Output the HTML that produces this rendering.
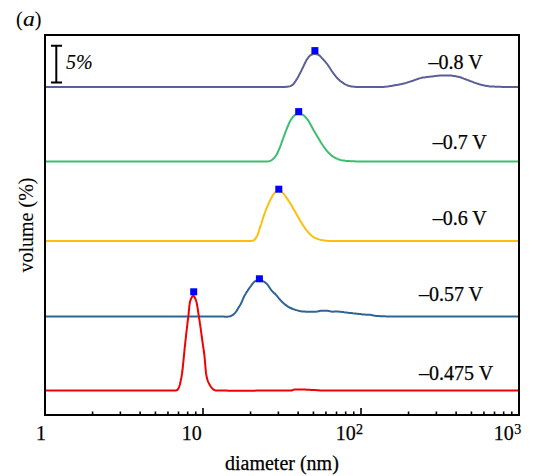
<!DOCTYPE html>
<html><head><meta charset="utf-8"><style>
html,body{margin:0;padding:0;background:#fff;width:555px;height:476px;overflow:hidden}
svg{display:block}
text{fill:#000;stroke:#000;stroke-width:0.25}
</style></head><body>
<svg width="555" height="476" viewBox="0 0 555 476">
<rect width="555" height="476" fill="#fff"/>
<path d="M45.0 87.0L46.0 87.0L47.0 87.0L48.0 87.0L49.1 87.0L50.1 87.0L51.1 87.0L52.1 87.0L53.2 87.0L54.2 87.0L55.3 87.0L56.3 87.0L57.4 87.0L58.4 87.0L59.5 87.0L60.6 87.0L61.6 87.0L62.7 87.0L63.8 87.0L64.9 87.0L66.0 87.0L67.1 87.0L68.2 87.0L69.2 87.0L70.3 87.0L71.5 87.0L72.6 87.0L73.7 87.0L74.8 87.0L75.9 87.0L77.0 87.0L78.1 87.0L79.3 87.0L80.4 87.0L81.5 87.0L82.6 87.0L83.8 87.0L84.9 87.0L86.1 87.0L87.2 87.0L88.3 87.0L89.5 87.0L90.6 87.0L91.8 87.0L92.9 87.0L94.1 87.0L95.2 87.0L96.4 87.0L97.5 87.0L98.7 87.0L99.9 87.0L101.0 87.0L102.2 87.0L103.4 87.0L104.5 87.0L105.7 87.0L106.9 87.0L108.0 87.0L109.2 87.0L110.4 87.0L111.5 87.0L112.7 87.0L113.9 87.0L115.1 87.0L116.2 87.0L117.4 87.0L118.6 87.0L119.8 87.0L120.9 87.0L122.1 87.0L123.3 87.0L124.5 87.0L125.7 87.0L126.8 87.0L128.0 87.0L129.2 87.0L130.4 87.0L131.5 87.0L132.7 87.0L133.9 87.0L135.1 87.0L136.2 87.0L137.4 87.0L138.6 87.0L139.8 87.0L140.9 87.0L142.1 87.0L143.3 87.0L144.4 87.0L145.6 87.0L146.8 87.0L147.9 87.0L149.1 87.0L150.3 87.0L151.4 87.0L152.6 87.0L153.7 87.0L154.9 87.0L156.1 87.0L157.2 87.0L158.4 87.0L159.5 87.0L160.6 87.0L161.8 87.0L162.9 87.0L164.1 87.0L165.2 87.0L166.3 87.0L167.5 87.0L168.6 87.0L169.7 87.0L170.9 87.0L172.0 87.0L173.1 87.0L174.2 87.0L175.3 87.0L176.4 87.0L177.6 87.0L178.7 87.0L179.8 87.0L180.9 87.0L182.0 87.0L183.0 87.0L184.1 87.0L185.2 87.0L186.3 87.0L187.4 87.0L188.5 87.0L189.5 87.0L190.6 87.0L191.7 87.0L192.7 87.0L193.8 87.0L194.8 87.0L195.9 87.0L196.9 87.0L197.9 87.0L199.0 87.0L200.0 87.0L201.0 87.0L202.1 87.0L203.1 87.0L204.1 87.0L205.1 87.0L206.1 87.0L207.1 87.0L208.1 87.0L209.1 87.0L210.0 87.0L211.0 87.0L212.0 87.0L212.9 87.0L213.9 87.0L214.9 87.0L215.8 87.0L216.7 87.0L217.7 87.0L218.6 87.0L219.5 87.0L220.5 87.0L221.4 87.0L222.3 87.0L223.2 87.0L224.1 87.0L225.0 87.0L225.9 87.0L226.7 87.0L227.6 87.0L228.5 87.0L229.3 87.0L230.2 87.0L231.0 87.0L231.8 87.0L232.7 87.0L233.5 87.0L234.3 87.0L235.1 87.0L235.9 87.0L236.7 87.0L237.5 87.0L238.3 87.0L239.1 87.0L239.8 87.0L240.6 87.0L241.3 87.0L242.1 87.0L242.8 87.0L243.5 87.0L244.3 87.0L245.0 87.0L245.7 87.0L246.4 87.0L247.1 87.0L247.7 87.0L248.4 87.0L249.1 87.0L249.7 87.0L250.4 87.0L251.0 87.0L251.6 87.0L252.3 87.0L252.9 87.0L253.5 87.0L254.1 87.0L254.7 87.0L255.2 87.0L255.8 87.0L256.4 87.0L256.9 87.0L257.4 87.0L258.0 87.0L258.5 87.0L259.0 87.0L259.5 87.0L260.0 87.0L261.6 87.0L263.0 87.0L264.4 87.0L265.8 87.0L267.1 87.0L268.3 87.0L269.5 87.0L270.6 87.0L271.7 87.0L272.7 87.0L273.7 87.0L274.7 87.0L275.6 87.0L276.5 87.0L277.3 87.0L278.2 87.0L279.0 87.0L279.7 86.9L280.5 86.9L281.3 86.9L282.0 86.9L283.6 86.9L285.0 86.9L286.2 86.8L287.4 86.8L288.5 86.6L290.5 86.1L292.2 85.2L293.2 84.3L294.1 83.2L295.0 81.9L295.9 80.6L296.5 79.6L297.2 78.6L297.8 77.5L298.4 76.4L299.0 75.2L299.6 74.1L300.1 73.1L300.7 72.0L301.2 71.0L301.7 69.9L302.2 68.8L302.8 67.8L303.3 66.7L303.8 65.6L304.3 64.5L304.8 63.4L305.4 62.3L305.9 61.2L306.4 60.2L307.0 59.3L307.9 58.1L308.7 56.9L309.7 55.9L310.7 55.1L312.0 54.5L313.5 54.1L314.9 54.0L316.7 54.2L318.5 54.8L319.4 55.4L320.4 56.3L321.3 57.3L322.2 58.3L323.1 59.3L323.9 60.2L324.7 61.0L325.4 61.9L326.2 62.9L327.0 63.8L327.7 64.8L328.4 65.7L329.0 66.7L329.7 67.8L330.3 68.8L331.0 69.8L331.6 70.8L332.3 71.8L333.1 72.9L333.8 73.9L334.6 74.9L335.4 75.9L336.2 76.9L337.0 77.8L337.9 78.7L338.8 79.6L339.7 80.4L340.6 81.2L341.6 81.9L342.6 82.6L343.7 83.4L344.8 84.1L346.0 84.7L347.1 85.2L348.4 85.7L349.8 86.1L351.2 86.4L352.7 86.6L353.7 86.7L354.8 86.8L356.0 86.9L357.1 86.9L358.3 87.0L359.6 87.0L360.8 87.0L362.0 87.0L363.1 87.0L364.2 87.0L365.3 87.0L366.4 87.0L367.5 87.0L368.6 87.0L369.7 86.9L370.9 86.9L372.0 86.9L373.1 86.9L374.2 86.9L375.4 86.9L376.6 86.9L377.7 86.9L378.9 86.9L380.0 87.0L381.2 86.9L382.3 86.9L383.5 86.9L384.6 86.8L385.8 86.7L386.9 86.6L388.0 86.4L389.1 86.3L390.3 86.1L391.4 85.9L392.5 85.7L393.6 85.5L394.7 85.3L395.8 85.1L397.0 84.9L398.1 84.7L399.3 84.4L400.4 84.2L401.6 84.0L402.7 83.7L403.8 83.5L404.8 83.2L406.1 82.9L407.3 82.5L408.4 82.1L409.6 81.8L410.8 81.4L412.0 81.0L413.0 80.7L414.1 80.3L415.1 79.9L416.2 79.5L417.3 79.1L418.4 78.7L419.5 78.4L420.6 78.1L421.7 77.8L422.9 77.6L424.1 77.4L425.3 77.3L426.4 77.1L427.6 77.0L428.8 76.8L430.0 76.7L431.2 76.5L432.4 76.4L433.6 76.2L434.8 76.1L436.0 75.9L437.2 75.8L438.4 75.7L439.7 75.6L440.8 75.5L442.0 75.5L443.1 75.5L444.3 75.4L445.5 75.4L446.6 75.4L447.8 75.4L448.9 75.5L450.0 75.5L451.1 75.6L452.3 75.7L453.5 75.9L454.7 76.0L455.8 76.2L456.9 76.5L458.1 76.7L459.2 77.0L460.4 77.3L461.5 77.7L462.6 78.1L463.8 78.6L464.9 79.0L466.1 79.5L467.3 79.9L468.3 80.3L469.4 80.7L470.5 81.1L471.5 81.5L472.6 81.9L473.7 82.4L474.8 82.8L475.9 83.1L477.0 83.5L478.1 83.8L479.1 84.2L480.2 84.5L481.2 84.8L482.3 85.1L483.3 85.3L484.4 85.6L485.6 85.8L486.8 86.0L487.8 86.1L488.7 86.3L489.8 86.4L490.8 86.4L491.9 86.5L493.0 86.6L494.1 86.6L495.2 86.7L496.3 86.7L497.4 86.8L498.6 86.8L499.7 86.8L500.8 86.8L501.9 86.9L503.0 86.9L504.1 86.9L505.1 87.0L506.2 87.0L507.3 87.0L508.3 87.0L509.4 87.0L510.5 87.0L511.5 87.0L512.6 87.0L513.7 87.0L514.7 87.0L515.8 87.0L516.9 87.0L517.9 87.0L519.0 87.0" fill="none" stroke="#5c5e96" stroke-width="2.00" stroke-linejoin="round"/>
<path d="M45.0 161.5L46.0 161.5L47.0 161.5L48.0 161.5L49.1 161.5L50.1 161.5L51.1 161.5L52.2 161.5L53.2 161.5L54.3 161.5L55.3 161.5L56.4 161.5L57.5 161.5L58.5 161.5L59.6 161.5L60.7 161.5L61.8 161.5L62.9 161.5L64.0 161.5L65.1 161.5L66.2 161.5L67.3 161.5L68.4 161.5L69.5 161.5L70.6 161.5L71.8 161.5L72.9 161.5L74.0 161.5L75.2 161.5L76.3 161.5L77.5 161.5L78.6 161.5L79.8 161.5L80.9 161.5L82.1 161.5L83.2 161.5L84.4 161.5L85.6 161.5L86.7 161.5L87.9 161.5L89.1 161.5L90.2 161.5L91.4 161.5L92.6 161.5L93.8 161.5L95.0 161.5L96.2 161.5L97.3 161.5L98.5 161.5L99.7 161.5L100.9 161.5L102.1 161.5L103.3 161.5L104.5 161.5L105.7 161.5L106.9 161.5L108.1 161.5L109.3 161.5L110.5 161.5L111.7 161.5L112.9 161.5L114.1 161.5L115.3 161.5L116.6 161.5L117.8 161.5L119.0 161.5L120.2 161.5L121.4 161.5L122.6 161.5L123.8 161.5L125.0 161.5L126.2 161.5L127.4 161.5L128.6 161.5L129.9 161.5L131.1 161.5L132.3 161.5L133.5 161.5L134.7 161.5L135.9 161.5L137.1 161.5L138.3 161.5L139.5 161.5L140.7 161.5L141.9 161.5L143.1 161.5L144.3 161.5L145.5 161.5L146.7 161.5L147.9 161.5L149.1 161.5L150.2 161.5L151.4 161.5L152.6 161.5L153.8 161.5L155.0 161.5L156.1 161.5L157.3 161.5L158.5 161.5L159.7 161.5L160.8 161.5L162.0 161.5L163.1 161.5L164.3 161.5L165.5 161.5L166.6 161.5L167.7 161.5L168.9 161.5L170.0 161.5L171.2 161.5L172.3 161.5L173.4 161.5L174.6 161.5L175.7 161.5L176.8 161.5L177.9 161.5L179.0 161.5L180.1 161.5L181.2 161.5L182.3 161.5L183.4 161.5L184.5 161.5L185.6 161.5L186.7 161.5L187.7 161.5L188.8 161.5L189.9 161.5L190.9 161.5L192.0 161.5L193.0 161.5L194.1 161.5L195.1 161.5L196.1 161.5L197.2 161.5L198.2 161.5L199.2 161.5L200.2 161.5L201.2 161.5L202.2 161.5L203.2 161.5L204.2 161.5L205.2 161.5L206.1 161.5L207.1 161.5L208.0 161.5L209.0 161.5L209.9 161.5L210.9 161.5L211.8 161.5L212.7 161.5L213.6 161.5L214.6 161.5L215.5 161.5L216.3 161.5L217.2 161.5L218.1 161.5L219.0 161.5L219.8 161.5L220.7 161.5L221.5 161.5L222.4 161.5L223.2 161.5L224.0 161.5L224.9 161.5L225.7 161.5L226.5 161.5L227.2 161.5L228.0 161.5L228.8 161.5L229.6 161.5L230.3 161.5L231.1 161.5L231.8 161.5L232.5 161.5L233.2 161.5L233.9 161.5L234.6 161.5L235.3 161.5L236.0 161.5L236.7 161.5L237.3 161.5L238.0 161.5L238.6 161.5L239.3 161.5L239.9 161.5L240.5 161.5L241.1 161.5L241.7 161.5L242.3 161.5L242.8 161.5L243.4 161.5L243.9 161.5L244.5 161.5L245.0 161.5L245.5 161.5L246.0 161.5L246.5 161.5L247.0 161.5L247.4 161.5L247.9 161.5L248.3 161.5L248.8 161.5L249.2 161.5L249.6 161.5L250.0 161.5L251.7 161.5L253.1 161.5L254.4 161.5L255.6 161.5L256.6 161.5L257.6 161.5L258.5 161.5L259.4 161.5L260.2 161.5L261.1 161.5L262.0 161.5L263.5 161.5L265.0 161.5L266.4 161.6L267.7 161.5L268.9 161.3L270.2 160.9L271.4 160.3L272.5 159.5L273.5 158.6L274.4 157.6L275.3 156.5L276.2 155.2L276.8 154.2L277.3 153.2L277.9 152.1L278.4 150.9L278.9 149.7L279.4 148.5L279.9 147.3L280.3 146.3L280.7 145.2L281.1 144.1L281.5 143.0L281.9 141.9L282.3 140.8L282.7 139.7L283.1 138.6L283.5 137.5L283.9 136.4L284.3 135.3L284.7 134.2L285.1 133.1L285.5 132.0L285.9 130.9L286.4 129.8L286.8 128.7L287.2 127.7L287.7 126.5L288.2 125.3L288.7 124.1L289.2 123.0L289.7 121.9L290.3 120.8L290.9 119.8L291.7 118.6L292.5 117.5L293.3 116.4L294.2 115.6L295.1 114.9L297.0 114.3L299.0 114.3L301.0 114.4L302.9 114.9L303.9 115.5L304.9 116.4L305.8 117.5L306.8 118.6L307.7 119.8L308.4 120.7L309.0 121.7L309.6 122.8L310.2 123.9L310.8 125.0L311.4 126.1L312.0 127.2L312.6 128.3L313.2 129.4L313.8 130.4L314.4 131.5L315.0 132.6L315.7 133.6L316.3 134.7L316.9 135.8L317.5 136.8L318.1 137.8L318.7 138.8L319.3 139.8L319.9 140.8L320.5 141.8L321.1 142.7L321.7 143.7L322.4 144.7L323.0 145.6L323.7 146.5L324.3 147.5L325.0 148.4L325.7 149.3L326.4 150.2L327.1 151.1L327.8 151.9L328.5 152.7L329.5 153.6L330.4 154.5L331.4 155.4L332.4 156.1L333.5 156.8L334.5 157.5L335.7 158.1L336.9 158.7L338.1 159.2L339.4 159.6L340.6 160.0L341.8 160.3L343.0 160.5L344.2 160.6L345.4 160.8L346.7 160.9L347.9 161.0L349.0 161.1L350.2 161.2L351.4 161.2L352.7 161.3L354.0 161.3L355.0 161.3L355.9 161.4L356.7 161.4L357.6 161.4L358.6 161.4L359.6 161.4L360.7 161.5L361.9 161.5L363.4 161.5L365.0 161.5L365.4 161.5L365.9 161.5L366.3 161.5L366.8 161.5L367.3 161.5L367.8 161.5L368.3 161.5L368.9 161.5L369.4 161.5L370.0 161.5L370.6 161.5L371.1 161.5L371.8 161.5L372.4 161.5L373.0 161.5L373.6 161.5L374.3 161.6L375.0 161.6L375.6 161.6L376.3 161.6L377.0 161.6L377.8 161.6L378.5 161.6L379.2 161.6L380.0 161.6L380.7 161.6L381.5 161.6L382.3 161.6L383.1 161.6L383.9 161.6L384.7 161.6L385.6 161.6L386.4 161.6L387.3 161.6L388.1 161.6L389.0 161.6L389.9 161.6L390.8 161.6L391.7 161.6L392.6 161.6L393.5 161.6L394.4 161.6L395.3 161.6L396.3 161.6L397.2 161.6L398.2 161.6L399.2 161.6L400.2 161.6L401.1 161.6L402.1 161.6L403.1 161.6L404.2 161.6L405.2 161.6L406.2 161.6L407.2 161.6L408.3 161.6L409.3 161.6L410.4 161.6L411.4 161.6L412.5 161.6L413.6 161.6L414.6 161.6L415.7 161.6L416.8 161.6L417.9 161.6L419.0 161.6L420.1 161.6L421.2 161.6L422.3 161.6L423.5 161.6L424.6 161.6L425.7 161.6L426.9 161.6L428.0 161.6L429.1 161.6L430.3 161.6L431.4 161.6L432.6 161.6L433.8 161.6L434.9 161.6L436.1 161.6L437.3 161.6L438.4 161.6L439.6 161.6L440.8 161.6L442.0 161.6L443.1 161.6L444.3 161.6L445.5 161.6L446.7 161.6L447.9 161.6L449.1 161.6L450.3 161.6L451.5 161.6L452.7 161.6L453.9 161.6L455.1 161.6L456.3 161.5L457.5 161.5L458.7 161.5L459.9 161.5L461.1 161.5L462.3 161.5L463.5 161.5L464.7 161.5L465.9 161.5L467.1 161.5L468.3 161.5L469.5 161.5L470.7 161.5L471.9 161.5L473.1 161.5L474.2 161.5L475.4 161.5L476.6 161.5L477.8 161.5L479.0 161.5L480.2 161.5L481.4 161.5L482.5 161.5L483.7 161.5L484.9 161.5L486.1 161.5L487.2 161.5L488.4 161.5L489.5 161.5L490.7 161.5L491.8 161.5L493.0 161.5L494.1 161.5L495.3 161.5L496.4 161.5L497.5 161.5L498.7 161.5L499.8 161.5L500.9 161.5L502.0 161.5L503.1 161.5L504.2 161.5L505.3 161.5L506.4 161.5L507.5 161.5L508.6 161.5L509.7 161.5L510.7 161.5L511.8 161.5L512.8 161.5L513.9 161.5L514.9 161.5L515.9 161.5L517.0 161.5L518.0 161.5L519.0 161.5" fill="none" stroke="#3cbe6e" stroke-width="2.00" stroke-linejoin="round"/>
<path d="M45.0 241.0L46.0 241.0L47.0 241.0L48.0 241.0L49.1 241.0L50.1 241.0L51.1 241.0L52.2 241.0L53.2 241.0L54.3 241.0L55.4 241.0L56.4 241.0L57.5 241.0L58.6 241.0L59.7 241.0L60.8 241.0L61.9 241.0L63.0 241.0L64.1 241.0L65.2 241.0L66.3 241.0L67.4 241.0L68.5 241.0L69.7 241.0L70.8 241.0L71.9 241.0L73.1 241.0L74.2 241.0L75.4 241.0L76.5 241.0L77.7 241.0L78.8 241.0L80.0 241.0L81.2 241.0L82.3 241.0L83.5 241.0L84.7 241.0L85.9 241.0L87.0 241.0L88.2 241.0L89.4 241.0L90.6 241.0L91.8 241.0L93.0 241.0L94.2 241.0L95.4 241.0L96.6 241.0L97.8 241.0L99.0 241.0L100.2 241.0L101.4 241.0L102.6 241.0L103.8 241.0L105.0 241.0L106.2 241.0L107.4 241.0L108.7 241.0L109.9 241.0L111.1 241.0L112.3 241.0L113.5 241.0L114.7 241.0L115.9 241.0L117.2 241.0L118.4 241.0L119.6 241.0L120.8 241.0L122.0 241.0L123.2 241.0L124.4 241.0L125.7 241.0L126.9 241.0L128.1 241.0L129.3 241.0L130.5 241.0L131.7 241.0L132.9 241.0L134.1 241.0L135.3 241.0L136.5 241.0L137.7 241.0L138.9 241.0L140.1 241.0L141.3 241.0L142.5 241.0L143.7 241.0L144.9 241.0L146.1 241.0L147.3 241.0L148.4 241.0L149.6 241.0L150.8 241.0L152.0 241.0L153.1 241.0L154.3 241.0L155.5 241.0L156.6 241.0L157.8 241.0L158.9 241.0L160.1 241.0L161.2 241.0L162.4 241.0L163.5 241.0L164.6 241.0L165.8 241.0L166.9 241.0L168.0 241.0L169.1 241.0L170.2 241.0L171.3 241.0L172.4 241.0L173.5 241.0L174.6 241.0L175.7 241.0L176.8 241.0L177.9 241.0L178.9 241.0L180.0 241.0L181.1 241.0L182.1 241.0L183.2 241.0L184.2 241.0L185.2 241.0L186.3 241.0L187.3 241.0L188.3 241.0L189.3 241.0L190.3 241.0L191.3 241.0L192.3 241.0L193.3 241.0L194.3 241.0L195.2 241.0L196.2 241.0L197.1 241.0L198.1 241.0L199.0 241.0L199.9 241.0L200.9 241.0L201.8 241.0L202.7 241.0L203.6 241.0L204.5 241.0L205.3 241.0L206.2 241.0L207.1 241.0L207.9 241.0L208.8 241.0L209.6 241.0L210.5 241.0L211.3 241.0L212.1 241.0L212.9 241.0L213.7 241.0L214.5 241.0L215.2 241.0L216.0 241.0L216.7 241.0L217.5 241.0L218.2 241.0L218.9 241.0L219.7 241.0L220.4 241.0L221.0 241.0L221.7 241.0L222.4 241.0L223.1 241.0L223.7 241.0L224.3 241.0L225.0 241.0L225.6 241.0L226.2 241.0L226.8 241.0L227.4 241.0L227.9 241.0L228.5 241.0L229.0 241.0L229.6 241.0L230.1 241.0L230.6 241.0L231.1 241.0L231.6 241.0L232.1 241.0L232.5 241.0L233.0 241.0L233.4 241.0L233.8 241.0L234.2 241.0L234.6 241.0L235.0 241.0L236.7 241.0L238.1 241.0L239.4 241.0L240.4 241.0L241.4 241.0L242.3 241.0L243.2 241.0L244.1 241.0L245.0 241.0L246.3 241.0L247.6 241.0L248.9 241.1L250.0 241.1L251.0 241.0L253.6 240.5L254.7 239.6L255.7 238.2L256.7 236.6L257.2 235.7L257.6 234.7L258.0 233.6L258.4 232.5L258.7 231.4L259.1 230.2L259.5 229.0L259.9 227.8L260.3 226.7L260.6 225.6L261.0 224.5L261.4 223.3L261.7 222.1L262.1 221.0L262.5 219.8L262.8 218.7L263.2 217.5L263.6 216.4L264.0 215.2L264.4 214.1L264.8 213.0L265.2 211.8L265.7 210.7L266.1 209.6L266.5 208.5L267.0 207.5L267.4 206.4L267.9 205.3L268.3 204.2L268.8 203.2L269.2 202.1L269.7 201.1L270.2 200.1L270.7 199.1L271.2 198.2L271.9 196.9L272.6 195.7L273.4 194.5L274.2 193.4L275.0 192.5L276.3 191.4L277.6 190.6L279.0 190.3L280.4 190.8L281.7 191.9L283.0 193.1L283.8 194.0L284.6 195.0L285.3 196.0L286.1 197.1L286.8 198.2L287.6 199.3L288.3 200.4L289.1 201.5L289.8 202.7L290.6 203.9L291.1 204.8L291.7 205.7L292.3 206.7L292.8 207.7L293.4 208.7L294.0 209.7L294.6 210.7L295.1 211.7L295.7 212.7L296.3 213.7L296.8 214.7L297.4 215.7L297.9 216.7L298.5 217.6L299.0 218.6L299.6 219.6L300.1 220.6L300.7 221.5L301.3 222.5L301.9 223.5L302.5 224.4L303.1 225.4L303.7 226.3L304.4 227.3L305.0 228.2L305.7 229.1L306.4 230.0L307.2 231.0L307.9 231.9L308.7 232.8L309.5 233.7L310.3 234.5L311.2 235.3L312.0 236.0L313.0 236.7L314.0 237.3L315.1 237.9L316.2 238.4L317.3 238.8L318.4 239.2L319.6 239.6L320.8 239.9L322.1 240.1L323.3 240.4L324.6 240.5L325.9 240.7L327.0 240.8L328.2 240.9L329.3 240.9L330.4 241.0L331.6 241.0L332.8 241.0L334.0 241.0L335.0 241.0L335.9 241.0L336.8 241.0L337.6 241.0L338.6 241.0L339.6 241.0L340.7 241.0L341.9 241.0L343.4 241.0L345.0 241.0L345.4 241.0L345.8 241.0L346.3 241.0L346.7 241.0L347.2 241.0L347.7 241.0L348.2 241.0L348.7 241.0L349.2 241.0L349.7 241.0L350.3 241.0L350.8 241.0L351.4 241.0L352.0 241.0L352.6 241.0L353.2 241.0L353.8 241.0L354.4 241.0L355.1 241.0L355.7 241.0L356.4 241.0L357.0 241.0L357.7 241.0L358.4 241.0L359.1 241.0L359.9 241.0L360.6 241.0L361.3 241.0L362.1 241.0L362.8 241.0L363.6 241.0L364.4 241.0L365.2 241.0L366.0 241.0L366.8 241.0L367.6 241.0L368.5 241.0L369.3 241.0L370.1 241.0L371.0 241.0L371.9 241.0L372.8 241.0L373.6 241.0L374.5 241.0L375.4 241.0L376.4 241.0L377.3 241.0L378.2 241.0L379.1 241.0L380.1 241.0L381.0 241.0L382.0 241.0L383.0 241.0L383.9 241.0L384.9 241.0L385.9 241.0L386.9 241.0L387.9 241.0L388.9 241.0L389.9 241.0L391.0 241.0L392.0 241.0L393.0 241.0L394.1 241.0L395.1 241.0L396.2 241.0L397.3 241.0L398.3 241.0L399.4 241.0L400.5 241.0L401.6 241.0L402.7 241.0L403.7 241.0L404.8 241.0L406.0 241.0L407.1 241.0L408.2 241.0L409.3 241.0L410.4 241.0L411.6 241.0L412.7 241.0L413.8 241.0L415.0 241.0L416.1 241.0L417.3 241.0L418.4 241.0L419.6 241.0L420.7 241.0L421.9 241.0L423.1 241.0L424.2 241.0L425.4 241.0L426.6 241.0L427.8 241.0L428.9 241.0L430.1 241.0L431.3 241.0L432.5 241.0L433.7 241.0L434.9 241.0L436.1 241.0L437.3 241.0L438.5 241.0L439.6 241.0L440.8 241.0L442.0 241.0L443.2 241.0L444.5 241.0L445.7 241.0L446.9 241.0L448.1 241.0L449.3 241.0L450.5 241.0L451.7 241.0L452.9 241.0L454.1 241.0L455.3 241.0L456.5 241.0L457.7 241.0L458.9 241.0L460.1 241.0L461.3 241.0L462.5 241.0L463.7 241.0L464.9 241.0L466.1 241.0L467.3 241.0L468.5 241.0L469.7 241.0L470.9 241.0L472.1 241.0L473.3 241.0L474.5 241.0L475.7 241.0L476.9 241.0L478.0 241.0L479.2 241.0L480.4 241.0L481.6 241.0L482.7 241.0L483.9 241.0L485.1 241.0L486.2 241.0L487.4 241.0L488.6 241.0L489.7 241.0L490.9 241.0L492.0 241.0L493.1 241.0L494.3 241.0L495.4 241.0L496.5 241.0L497.7 241.0L498.8 241.0L499.9 241.0L501.0 241.0L502.1 241.0L503.2 241.0L504.3 241.0L505.4 241.0L506.5 241.0L507.5 241.0L508.6 241.0L509.7 241.0L510.7 241.0L511.8 241.0L512.8 241.0L513.9 241.0L514.9 241.0L516.0 241.0L517.0 241.0L518.0 241.0L519.0 241.0" fill="none" stroke="#ffbe0a" stroke-width="2.00" stroke-linejoin="round"/>
<path d="M45.0 316.5L46.0 316.5L47.0 316.5L48.1 316.5L49.1 316.5L50.1 316.5L51.2 316.5L52.2 316.5L53.3 316.5L54.3 316.5L55.4 316.5L56.5 316.5L57.6 316.5L58.7 316.5L59.8 316.5L60.9 316.5L62.0 316.5L63.1 316.5L64.2 316.5L65.3 316.5L66.5 316.5L67.6 316.5L68.7 316.5L69.9 316.5L71.0 316.5L72.2 316.5L73.3 316.5L74.5 316.5L75.6 316.5L76.8 316.5L78.0 316.5L79.1 316.5L80.3 316.5L81.5 316.5L82.7 316.5L83.8 316.5L85.0 316.5L86.2 316.5L87.4 316.5L88.6 316.5L89.8 316.5L91.0 316.5L92.2 316.5L93.4 316.5L94.6 316.5L95.8 316.5L97.0 316.5L98.2 316.5L99.4 316.5L100.6 316.5L101.8 316.5L103.0 316.5L104.2 316.5L105.4 316.5L106.7 316.5L107.9 316.5L109.1 316.5L110.3 316.5L111.5 316.5L112.7 316.5L113.9 316.5L115.1 316.5L116.3 316.5L117.5 316.5L118.7 316.5L119.9 316.5L121.1 316.5L122.3 316.5L123.5 316.5L124.7 316.5L125.9 316.5L127.0 316.5L128.2 316.5L129.4 316.5L130.6 316.5L131.8 316.5L132.9 316.5L134.1 316.5L135.3 316.5L136.4 316.5L137.6 316.5L138.7 316.5L139.9 316.5L141.0 316.5L142.2 316.5L143.3 316.5L144.4 316.5L145.6 316.5L146.7 316.5L147.8 316.5L148.9 316.5L150.0 316.5L151.1 316.5L152.2 316.5L153.3 316.5L154.4 316.5L155.5 316.5L156.5 316.5L157.6 316.5L158.7 316.5L159.7 316.5L160.8 316.5L161.8 316.5L162.8 316.5L163.9 316.5L164.9 316.5L165.9 316.5L166.9 316.5L167.9 316.5L168.9 316.5L169.9 316.5L170.8 316.5L171.8 316.5L172.7 316.5L173.7 316.5L174.6 316.5L175.5 316.5L176.5 316.5L177.4 316.5L178.3 316.5L179.2 316.5L180.0 316.5L180.9 316.5L181.8 316.5L182.6 316.5L183.5 316.5L184.3 316.5L185.1 316.5L185.9 316.5L186.7 316.5L187.5 316.5L188.3 316.5L189.1 316.5L189.8 316.5L190.6 316.5L191.3 316.5L192.0 316.5L192.7 316.5L193.4 316.5L194.1 316.5L194.8 316.5L195.4 316.5L196.1 316.5L196.7 316.5L197.3 316.5L197.9 316.5L198.5 316.5L199.1 316.5L199.7 316.5L200.2 316.5L200.8 316.5L201.3 316.5L201.8 316.5L202.3 316.5L202.8 316.5L203.3 316.5L203.7 316.5L204.2 316.5L204.6 316.5L205.0 316.5L206.6 316.5L208.1 316.5L209.3 316.5L210.4 316.5L211.3 316.4L212.2 316.4L213.1 316.4L214.0 316.4L215.0 316.4L216.3 316.4L217.5 316.4L218.6 316.4L219.8 316.4L220.9 316.4L222.0 316.4L223.4 316.5L224.7 316.7L226.0 316.8L227.3 316.8L228.7 316.6L230.1 316.2L231.4 315.7L232.6 315.1L233.9 314.1L235.1 312.9L236.1 311.6L236.9 310.4L237.6 309.2L238.3 308.0L239.0 306.9L239.7 305.8L240.5 304.5L241.0 303.6L241.4 302.6L241.9 301.5L242.4 300.3L242.9 299.2L243.4 298.0L243.9 296.8L244.5 295.7L245.1 294.7L245.7 293.7L246.3 292.6L247.0 291.6L247.7 290.6L248.3 289.6L249.0 288.6L249.7 287.7L250.3 286.8L251.2 285.6L252.0 284.4L252.9 283.3L253.7 282.3L254.7 281.5L255.9 280.9L257.1 280.4L258.4 280.2L259.6 280.1L260.9 280.3L262.2 280.8L263.4 281.4L264.6 282.1L265.8 283.0L267.0 284.1L267.8 285.0L268.5 286.0L269.2 287.1L270.0 288.3L270.7 289.4L271.5 290.4L272.4 291.4L273.2 292.2L274.1 293.1L275.1 293.9L276.0 294.9L276.7 295.7L277.5 296.6L278.2 297.5L279.0 298.5L279.8 299.4L280.6 300.4L281.5 301.3L282.3 302.1L283.3 303.0L284.2 303.8L285.2 304.6L286.3 305.4L287.3 306.2L288.4 306.9L289.5 307.5L290.6 308.0L291.7 308.5L292.8 309.0L294.0 309.4L295.2 309.8L296.3 310.1L297.4 310.4L298.5 310.7L299.8 311.0L301.0 311.2L302.1 311.4L303.3 311.5L304.7 311.6L305.8 311.7L306.9 311.7L308.2 311.8L309.5 311.8L310.8 311.8L312.1 311.8L313.3 311.8L314.5 311.7L315.6 311.7L316.6 311.6L318.2 311.4L319.5 311.0L320.9 310.8L322.1 310.7L323.5 310.7L324.8 310.7L326.2 310.7L327.4 310.8L328.9 311.0L330.3 311.4L331.8 311.6L333.0 311.7L334.2 311.6L335.5 311.6L336.8 311.6L338.2 311.6L339.4 311.7L340.6 311.8L341.8 311.9L343.0 312.1L344.3 312.3L345.6 312.4L346.9 312.6L348.1 312.7L349.2 312.9L350.5 313.0L351.7 313.1L352.9 313.3L354.1 313.4L355.3 313.5L356.5 313.7L357.6 313.8L358.9 314.0L360.3 314.1L361.5 314.2L362.8 314.4L363.9 314.5L365.1 314.6L366.4 314.7L367.7 314.7L369.0 314.7L370.2 314.8L371.4 315.0L372.6 315.3L373.8 315.6L375.2 315.8L376.1 315.9L377.1 316.0L378.1 316.1L379.1 316.1L380.2 316.2L381.4 316.2L382.5 316.3L383.8 316.3L385.1 316.3L386.4 316.4L387.8 316.4L388.6 316.4L389.4 316.4L390.3 316.5L391.1 316.5L392.0 316.5L392.8 316.5L393.7 316.5L394.6 316.5L395.5 316.5L396.5 316.5L397.4 316.5L398.4 316.5L399.4 316.5L400.3 316.5L401.4 316.5L402.4 316.5L403.4 316.5L404.5 316.5L405.6 316.5L406.7 316.5L407.8 316.5L408.9 316.5L410.1 316.5L411.2 316.5L412.4 316.5L413.6 316.5L414.9 316.5L416.1 316.5L417.4 316.5L418.7 316.5L420.0 316.5L420.7 316.5L421.5 316.5L422.3 316.5L423.0 316.5L423.8 316.5L424.6 316.5L425.4 316.5L426.2 316.5L427.0 316.5L427.9 316.5L428.7 316.5L429.6 316.5L430.4 316.5L431.3 316.5L432.2 316.5L433.1 316.5L434.0 316.5L434.9 316.5L435.8 316.5L436.7 316.5L437.6 316.5L438.6 316.5L439.5 316.5L440.5 316.5L441.4 316.5L442.4 316.5L443.4 316.5L444.3 316.5L445.3 316.5L446.3 316.5L447.3 316.5L448.3 316.5L449.3 316.5L450.3 316.5L451.4 316.5L452.4 316.5L453.4 316.5L454.5 316.5L455.5 316.5L456.5 316.5L457.6 316.5L458.6 316.5L459.7 316.5L460.8 316.5L461.8 316.5L462.9 316.5L464.0 316.5L465.0 316.5L466.1 316.5L467.2 316.5L468.3 316.5L469.4 316.5L470.5 316.5L471.5 316.5L472.6 316.5L473.7 316.5L474.8 316.5L475.9 316.5L477.0 316.5L478.1 316.5L479.2 316.5L480.3 316.5L481.4 316.5L482.5 316.5L483.6 316.5L484.7 316.5L485.8 316.5L486.9 316.5L488.0 316.5L489.1 316.5L490.2 316.5L491.3 316.5L492.4 316.5L493.5 316.5L494.6 316.5L495.7 316.5L496.8 316.5L497.9 316.5L499.0 316.5L500.1 316.5L501.2 316.5L502.2 316.5L503.3 316.5L504.4 316.5L505.5 316.5L506.5 316.5L507.6 316.5L508.6 316.5L509.7 316.5L510.8 316.5L511.8 316.5L512.8 316.5L513.9 316.5L514.9 316.5L515.9 316.5L517.0 316.5L518.0 316.5L519.0 316.5" fill="none" stroke="#2e6496" stroke-width="2.00" stroke-linejoin="round"/>
<path d="M45.0 390.5L46.0 390.5L47.0 390.5L48.1 390.5L49.1 390.5L50.2 390.5L51.2 390.5L52.3 390.5L53.3 390.5L54.4 390.5L55.5 390.5L56.6 390.5L57.7 390.5L58.8 390.5L59.9 390.5L61.0 390.5L62.1 390.5L63.3 390.5L64.4 390.5L65.5 390.5L66.7 390.5L67.8 390.5L69.0 390.5L70.1 390.5L71.3 390.5L72.4 390.5L73.6 390.5L74.8 390.5L75.9 390.5L77.1 390.5L78.3 390.5L79.4 390.5L80.6 390.5L81.8 390.5L83.0 390.5L84.2 390.5L85.3 390.5L86.5 390.5L87.7 390.5L88.9 390.5L90.1 390.5L91.2 390.5L92.4 390.5L93.6 390.5L94.8 390.5L95.9 390.5L97.1 390.5L98.3 390.5L99.5 390.5L100.6 390.4L101.8 390.4L103.0 390.4L104.1 390.4L105.3 390.4L106.4 390.4L107.6 390.4L108.7 390.4L109.9 390.4L111.0 390.4L112.1 390.4L113.2 390.4L114.4 390.4L115.5 390.4L116.6 390.4L117.7 390.4L118.8 390.4L119.9 390.4L121.0 390.4L122.0 390.4L123.1 390.4L124.2 390.4L125.2 390.4L126.3 390.4L127.3 390.4L128.3 390.4L129.4 390.4L130.4 390.4L131.4 390.4L132.4 390.4L133.4 390.4L134.3 390.4L135.3 390.4L136.3 390.4L137.2 390.4L138.1 390.4L139.1 390.4L140.0 390.4L140.9 390.4L141.8 390.4L142.6 390.4L143.5 390.4L144.4 390.4L145.2 390.4L146.0 390.4L146.8 390.4L147.6 390.4L148.4 390.4L149.2 390.4L150.0 390.4L150.7 390.4L151.4 390.4L152.2 390.4L152.9 390.4L153.5 390.4L154.2 390.4L154.9 390.4L155.5 390.4L156.1 390.4L156.7 390.4L157.3 390.4L157.9 390.4L158.4 390.4L159.0 390.4L159.5 390.4L160.0 390.4L161.6 390.4L163.0 390.4L164.3 390.4L165.5 390.4L166.6 390.4L167.6 390.4L168.5 390.5L169.4 390.5L170.3 390.4L171.1 390.4L172.0 390.4L173.5 390.4L174.9 390.5L176.2 390.4L177.2 390.0L178.4 388.6L179.2 386.6L179.5 385.7L179.8 384.8L180.1 383.7L180.4 382.6L180.6 381.3L180.9 380.1L181.1 378.8L181.4 377.5L181.6 376.3L181.8 375.0L182.0 373.9L182.1 372.9L182.3 371.8L182.4 370.6L182.6 369.5L182.7 368.4L182.8 367.3L182.9 366.1L183.0 365.0L183.1 363.8L183.3 362.6L183.4 361.5L183.5 360.3L183.6 359.3L183.7 358.3L183.8 357.2L183.9 356.2L184.0 355.2L184.1 354.2L184.2 353.2L184.3 352.1L184.4 351.1L184.5 350.0L184.6 348.9L184.7 347.8L184.8 346.7L185.0 345.6L185.1 344.5L185.2 343.3L185.3 342.3L185.4 341.3L185.5 340.3L185.6 339.3L185.8 338.2L185.9 337.2L186.0 336.1L186.1 335.0L186.2 333.9L186.4 332.8L186.5 331.6L186.6 330.5L186.8 329.4L186.9 328.2L187.0 327.1L187.2 326.0L187.3 324.9L187.4 323.8L187.5 322.7L187.7 321.6L187.8 320.6L187.9 319.6L188.1 318.5L188.2 317.6L188.3 316.6L188.5 315.3L188.6 314.1L188.7 312.8L188.8 311.6L188.9 310.3L189.1 309.1L189.2 307.9L189.3 306.7L189.4 305.5L189.6 304.4L189.7 303.4L189.9 302.4L190.1 301.5L190.3 300.7L190.6 299.9L191.4 298.0L192.4 296.4L193.3 295.8L194.2 296.4L195.0 298.0L195.8 299.9L196.1 300.7L196.3 301.5L196.6 302.4L196.8 303.4L197.0 304.5L197.2 305.5L197.4 306.7L197.6 307.9L197.8 309.1L197.9 310.3L198.1 311.6L198.3 312.8L198.5 314.1L198.7 315.3L198.9 316.6L199.1 317.6L199.2 318.6L199.4 319.6L199.5 320.6L199.7 321.7L199.9 322.8L200.0 323.9L200.2 325.0L200.3 326.1L200.5 327.3L200.7 328.4L200.8 329.6L201.0 330.7L201.1 331.9L201.3 333.0L201.4 334.1L201.6 335.2L201.7 336.3L201.9 337.4L202.0 338.5L202.2 339.5L202.3 340.5L202.4 341.5L202.6 342.4L202.7 343.3L202.9 344.5L203.0 345.7L203.2 346.8L203.4 347.9L203.5 348.9L203.7 349.9L203.8 350.9L203.9 352.0L204.1 353.0L204.2 354.0L204.4 355.1L204.5 356.3L204.6 357.3L204.7 358.4L204.8 359.5L204.9 360.7L205.0 361.8L205.1 363.0L205.2 364.2L205.3 365.4L205.4 366.6L205.5 367.8L205.6 369.0L205.7 370.1L205.8 371.2L205.9 372.2L206.0 373.2L206.2 374.1L206.3 375.0L206.6 376.4L206.8 377.6L207.1 378.7L207.5 379.8L207.8 380.8L208.2 381.8L208.8 383.1L209.4 384.3L210.1 385.5L210.8 386.6L211.8 387.9L212.9 389.1L214.2 390.0L215.4 390.4L216.6 390.5L218.1 390.5L220.0 390.5L220.5 390.5L221.0 390.5L221.6 390.6L222.3 390.6L222.9 390.6L223.7 390.6L224.4 390.6L225.2 390.6L226.1 390.6L226.9 390.6L227.9 390.7L228.8 390.7L229.8 390.7L230.8 390.7L231.8 390.7L232.9 390.7L234.0 390.7L235.1 390.7L236.2 390.7L237.4 390.7L238.6 390.7L239.8 390.7L241.0 390.7L242.2 390.7L243.4 390.7L244.7 390.7L245.9 390.7L247.2 390.7L248.5 390.7L249.8 390.7L251.0 390.7L252.3 390.7L253.6 390.7L254.9 390.7L256.2 390.6L257.5 390.6L258.7 390.6L260.0 390.6L261.2 390.6L262.5 390.6L263.7 390.6L264.9 390.6L266.1 390.6L267.3 390.6L268.5 390.6L269.6 390.6L270.8 390.6L271.9 390.6L272.9 390.6L274.0 390.5L275.0 390.5L276.0 390.5L276.9 390.5L277.9 390.5L278.8 390.5L279.6 390.5L280.4 390.5L281.2 390.5L282.0 390.5L282.7 390.5L283.3 390.5L283.9 390.5L284.5 390.5L285.0 390.5L286.8 390.5L288.2 390.6L289.5 390.6L290.5 390.6L291.5 390.5L294.0 389.6L295.0 389.5L296.1 389.4L297.4 389.4L298.7 389.5L300.0 389.5L301.0 389.5L302.0 389.5L303.1 389.6L304.2 389.6L305.4 389.6L306.5 389.7L307.7 389.7L308.9 389.8L310.0 389.8L311.1 389.9L312.2 389.9L313.3 390.0L314.4 390.0L315.5 390.1L316.7 390.2L317.8 390.2L318.9 390.3L319.9 390.4L321.0 390.4L322.1 390.4L323.0 390.5L323.9 390.5L324.8 390.5L325.8 390.5L327.0 390.5L328.3 390.5L330.0 390.5L330.4 390.5L330.7 390.5L331.1 390.5L331.5 390.5L332.0 390.5L332.4 390.5L332.9 390.5L333.3 390.5L333.8 390.5L334.3 390.5L334.8 390.5L335.3 390.5L335.8 390.5L336.3 390.5L336.9 390.5L337.4 390.5L338.0 390.5L338.6 390.5L339.2 390.5L339.8 390.5L340.4 390.5L341.1 390.5L341.7 390.5L342.3 390.5L343.0 390.5L343.7 390.5L344.4 390.5L345.1 390.5L345.8 390.5L346.5 390.5L347.2 390.5L348.0 390.5L348.7 390.5L349.5 390.5L350.2 390.5L351.0 390.5L351.8 390.5L352.6 390.5L353.4 390.5L354.2 390.5L355.0 390.6L355.9 390.6L356.7 390.6L357.6 390.6L358.4 390.6L359.3 390.6L360.2 390.6L361.1 390.6L362.0 390.6L362.9 390.6L363.8 390.6L364.7 390.6L365.7 390.6L366.6 390.6L367.5 390.6L368.5 390.6L369.4 390.6L370.4 390.6L371.4 390.6L372.4 390.6L373.4 390.6L374.4 390.6L375.4 390.6L376.4 390.6L377.4 390.6L378.4 390.6L379.5 390.6L380.5 390.6L381.5 390.6L382.6 390.6L383.6 390.6L384.7 390.6L385.8 390.6L386.8 390.6L387.9 390.6L389.0 390.6L390.1 390.6L391.2 390.6L392.3 390.6L393.4 390.6L394.5 390.6L395.6 390.6L396.7 390.6L397.9 390.6L399.0 390.6L400.1 390.6L401.3 390.6L402.4 390.5L403.6 390.5L404.7 390.5L405.9 390.5L407.0 390.5L408.2 390.5L409.3 390.5L410.5 390.5L411.7 390.5L412.9 390.5L414.0 390.5L415.2 390.5L416.4 390.5L417.6 390.5L418.8 390.5L420.0 390.5L421.2 390.5L422.4 390.5L423.6 390.5L424.8 390.5L426.0 390.5L427.2 390.5L428.4 390.5L429.6 390.5L430.8 390.5L432.0 390.5L433.2 390.5L434.4 390.5L435.6 390.5L436.9 390.5L438.1 390.5L439.3 390.5L440.5 390.5L441.7 390.5L442.9 390.5L444.2 390.5L445.4 390.5L446.6 390.5L447.8 390.5L449.0 390.5L450.3 390.5L451.5 390.5L452.7 390.5L453.9 390.5L455.1 390.5L456.4 390.5L457.6 390.5L458.8 390.5L460.0 390.5L461.2 390.5L462.4 390.5L463.6 390.5L464.9 390.5L466.1 390.5L467.3 390.5L468.5 390.5L469.7 390.5L470.9 390.5L472.1 390.5L473.3 390.5L474.5 390.5L475.7 390.5L476.8 390.5L478.0 390.5L479.2 390.5L480.4 390.5L481.6 390.5L482.7 390.5L483.9 390.5L485.1 390.5L486.2 390.5L487.4 390.5L488.6 390.5L489.7 390.5L490.9 390.5L492.0 390.5L493.1 390.5L494.3 390.5L495.4 390.5L496.5 390.5L497.7 390.5L498.8 390.5L499.9 390.5L501.0 390.5L502.1 390.5L503.2 390.5L504.3 390.5L505.4 390.5L506.5 390.5L507.6 390.5L508.6 390.5L509.7 390.5L510.7 390.5L511.8 390.5L512.8 390.5L513.9 390.5L514.9 390.5L516.0 390.5L517.0 390.5L518.0 390.5L519.0 390.5" fill="none" stroke="#f00000" stroke-width="2.00" stroke-linejoin="round"/>
<rect x="311.4" y="47.1" width="7" height="7" fill="#0000ff"/>
<rect x="295.2" y="108.1" width="7" height="7" fill="#0000ff"/>
<rect x="275.3" y="185.7" width="7" height="7" fill="#0000ff"/>
<rect x="255.9" y="275.3" width="7" height="7" fill="#0000ff"/>
<rect x="190.2" y="288.3" width="7" height="7" fill="#0000ff"/>
<path d="M45 35 H519 V415 H45 Z" fill="none" stroke="#000" stroke-width="2" stroke-linejoin="miter"/>
<path d="M92.56 415V411.6M120.39 415V411.6M140.13 415V411.6M155.44 415V411.6M167.95 415V411.6M178.53 415V411.6M187.69 415V411.6M195.77 415V411.6M203.00 415V408M250.56 415V411.6M278.39 415V411.6M298.13 415V411.6M313.44 415V411.6M325.95 415V411.6M336.53 415V411.6M345.69 415V411.6M353.77 415V411.6M361.00 415V408M408.56 415V411.6M436.39 415V411.6M456.13 415V411.6M471.44 415V411.6M483.95 415V411.6M494.53 415V411.6M503.69 415V411.6M511.77 415V411.6" stroke="#000" stroke-width="1.6" fill="none"/>
<path d="M51 45.7H62M56.3 45.7V82.5M51 82.5H62" stroke="#000" stroke-width="2" fill="none"/>
<text x="16" y="26" font-family="&quot;Liberation Serif&quot;, serif" font-size="20" style="stroke-width:0.05">(</text>
<text transform="translate(23 26) scale(1.18 1)" font-family="&quot;Liberation Serif&quot;, serif" font-size="20" font-style="italic" style="stroke-width:0.1">a</text>
<text x="34.7" y="26" font-family="&quot;Liberation Serif&quot;, serif" font-size="20" style="stroke-width:0.05">)</text>
<text x="66" y="69" font-family="&quot;Liberation Serif&quot;, serif" font-size="20" font-style="italic" style="stroke-width:0.12">5%</text>
<text x="428.6" y="69" font-family="&quot;Liberation Serif&quot;, serif" font-size="20">&#8211;0.8 V</text>
<text x="432.7" y="148.8" font-family="&quot;Liberation Serif&quot;, serif" font-size="20">&#8211;0.7 V</text>
<text x="432.7" y="224.8" font-family="&quot;Liberation Serif&quot;, serif" font-size="20">&#8211;0.6 V</text>
<text x="418.9" y="301.1" font-family="&quot;Liberation Serif&quot;, serif" font-size="20">&#8211;0.57 V</text>
<text x="419" y="379.7" font-family="&quot;Liberation Serif&quot;, serif" font-size="20">&#8211;0.475 V</text>
<text x="36" y="440" font-family="&quot;Liberation Serif&quot;, serif" font-size="20">1</text>
<text x="181.8" y="440" font-family="&quot;Liberation Serif&quot;, serif" font-size="20">10</text>
<text x="335.8" y="440" font-family="&quot;Liberation Serif&quot;, serif" font-size="20">10<tspan font-size="14" dx="0.3" dy="-6.5">2</tspan></text>
<text x="493.8" y="440" font-family="&quot;Liberation Serif&quot;, serif" font-size="20">10<tspan font-size="14" dx="0.5" dy="-6.5">3</tspan></text>
<text x="225" y="469.6" font-family="&quot;Liberation Serif&quot;, serif" font-size="20">diameter (nm)</text>
<text transform="translate(32.6 272.5) rotate(-90)" font-family="&quot;Liberation Serif&quot;, serif" font-size="20" style="stroke-width:0.1">volume (%)</text>
</svg>
</body></html>
